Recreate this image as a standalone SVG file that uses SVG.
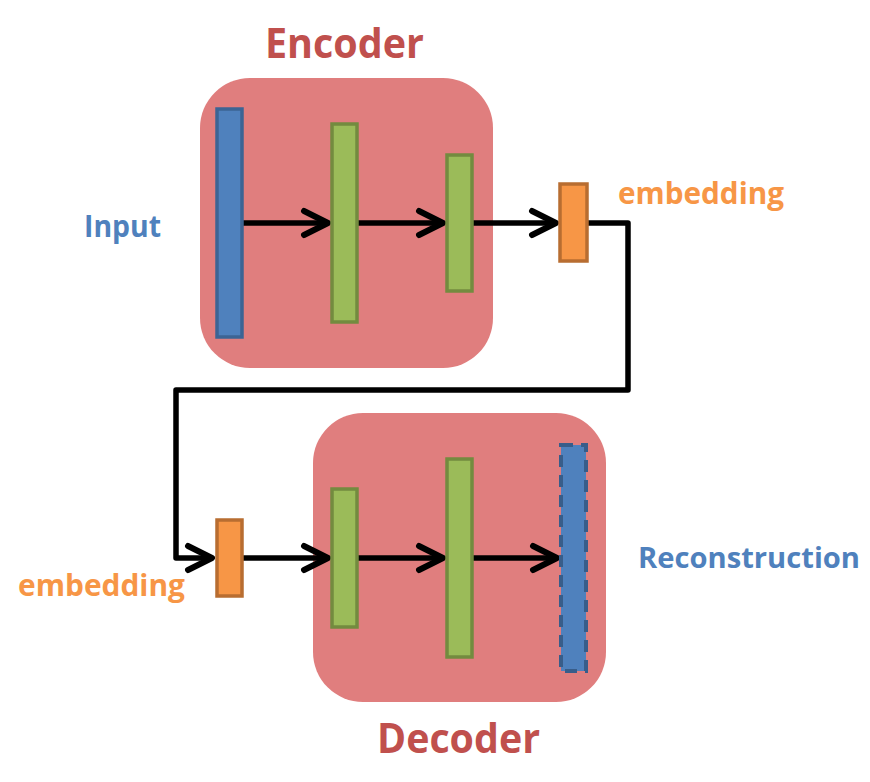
<svg xmlns="http://www.w3.org/2000/svg" width="870" height="782" viewBox="0 0 870 782">
  <defs>
    <style>
      .box { fill: #e07e7e; }
      .blue { fill: #4f81bd; stroke: #3c6494; stroke-width: 3.5; }
      .green { fill: #9bbb59; stroke: #738b3f; stroke-width: 3.5; }
      .orange { fill: #f79646; stroke: #b86d31; stroke-width: 3.5; }
      .dashed { stroke: #385d8a; stroke-width: 4; stroke-dasharray: 12 8; }
      .edge { fill: none; stroke: #000; stroke-width: 5.5; stroke-linecap: butt; stroke-linejoin: round; }
      .title { font-family: "Open Sans", "Liberation Sans", sans-serif; font-weight: bold; font-size: 42px; fill: #c0504d; }
      .lbl { font-family: "Open Sans", "Liberation Sans", sans-serif; font-weight: bold; font-size: 31px; }
      .small { font-size: 28px; }
    </style>
    <marker id="chev" viewBox="-32 -18 36 36" refX="0" refY="0" markerWidth="36" markerHeight="36" markerUnits="userSpaceOnUse" orient="auto">
      <path d="M-24,-12 L0,0 L-24,12" fill="none" stroke="#000" stroke-width="6" stroke-linecap="round" stroke-linejoin="round"/>
    </marker>
  </defs>
  <rect width="870" height="782" fill="#fff"/>

  <g id="encoder">
    <rect class="box" x="200" y="78" width="293" height="290" rx="50" ry="50"/>
    <text class="title" x="265" y="58" textLength="159" lengthAdjust="spacingAndGlyphs">Encoder</text>
  </g>
  <g id="decoder">
    <rect class="box" x="313" y="413" width="293" height="289" rx="50" ry="50"/>
    <text class="title" x="377" y="753" textLength="163" lengthAdjust="spacingAndGlyphs">Decoder</text>
  </g>

  <g id="connectors">
    <path class="edge" d="M243,223 H328" marker-end="url(#chev)"/>
    <path class="edge" d="M358,223 H443" marker-end="url(#chev)"/>
    <path class="edge" d="M473,223 H556" marker-end="url(#chev)"/>
    <path class="edge" d="M588,223 H628 V390 H176 V558 H212" marker-end="url(#chev)"/>
    <path class="edge" d="M243,558 H328" marker-end="url(#chev)"/>
    <path class="edge" d="M358,558 H443" marker-end="url(#chev)"/>
    <path class="edge" d="M473,558 H557" marker-end="url(#chev)"/>
  </g>

  <g id="input">
    <rect class="blue" x="217" y="109" width="25" height="228"/>
    <text class="lbl" x="84" y="237" fill="#4f81bd" textLength="77" lengthAdjust="spacingAndGlyphs">Input</text>
  </g>
  <g id="enc-hidden1">
    <rect class="green" x="332" y="124" width="25" height="198"/>
  </g>
  <g id="enc-hidden2">
    <rect class="green" x="447" y="155" width="25" height="136"/>
  </g>
  <g id="embedding-out">
    <rect class="orange" x="560" y="184" width="27" height="77"/>
    <text class="lbl" x="618" y="204" fill="#f79646" textLength="166" lengthAdjust="spacingAndGlyphs">embedding</text>
  </g>
  <g id="embedding-in">
    <rect class="orange" x="217" y="520" width="25" height="76"/>
    <text class="lbl" x="18" y="596" fill="#f79646" textLength="167" lengthAdjust="spacingAndGlyphs">embedding</text>
  </g>
  <g id="dec-hidden1">
    <rect class="green" x="332" y="489" width="25" height="138"/>
  </g>
  <g id="dec-hidden2">
    <rect class="green" x="447" y="459" width="25" height="198"/>
  </g>
  <g id="reconstruction">
    <rect class="blue dashed" x="561" y="445" width="25" height="226"/>
    <text class="lbl small" x="638" y="568" fill="#4f81bd" textLength="222" lengthAdjust="spacingAndGlyphs">Reconstruction</text>
  </g>
</svg>
